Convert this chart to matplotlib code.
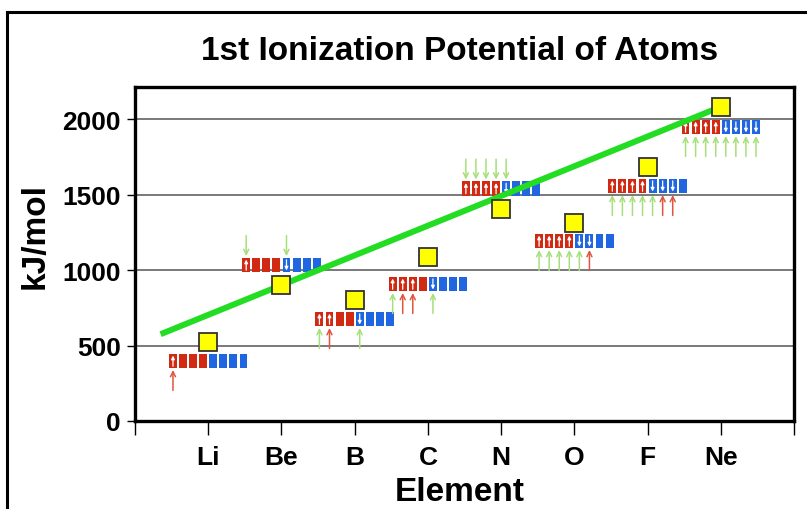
import numpy as np
import matplotlib
matplotlib.use('Agg')
import matplotlib.pyplot as plt
from matplotlib.patches import Rectangle

# ionization energies, kJ/mol
elements = ['Li', 'Be', 'B', 'C', 'N', 'O', 'F', 'Ne']
ionization = [520, 899, 801, 1086, 1402, 1314, 1681, 2081]

# level of each orbital-box strip (kJ/mol)
box_level = [397, 1033, 675, 907, 1540, 1192, 1556, 1947]
# filled spin-up (red) and spin-down (blue) boxes
n_up = [1, 1, 2, 3, 4, 4, 4, 4]
n_down = [0, 1, 1, 1, 1, 2, 3, 4]

# small arrows outside the strips (box index)
green_above = {'Be': [0, 4], 'N': [0, 1, 2, 3, 4]}
green_below = {'B': [0, 4], 'C': [0, 4], 'O': [0, 1, 2, 3, 4],
               'F': [0, 1, 2, 3, 4], 'Ne': [0, 1, 2, 3, 4, 5, 6, 7]}
red_below = {'Li': [0], 'B': [1], 'C': [1, 2], 'O': [5], 'F': [5, 6]}

# trend line
trend_x = [0.35, 8.0]
trend_y = [575, 2081]

RED = '#d22a12'
BLUE = '#1f66e0'
LGREEN = '#a6e07a'
LRED = '#e0553f'

plt.rcParams['font.family'] = ['Liberation Sans', 'DejaVu Sans']
plt.rcParams['font.weight'] = 'bold'

fig = plt.figure(figsize=(8.07, 5.10), dpi=100)
ax = fig.add_axes([135 / 807, 88 / 510, 659 / 807, 334 / 510])

xs = np.arange(1, len(elements) + 1)

pitch = 0.1375
box_w = 0.108
box_h = 95
arr_len = 135
arr_gap = 12


def small_arrow(x, y0, y1, color, lw=1.1, ms=9, style='->'):
    ax.annotate('', xy=(x, y1), xytext=(x, y0),
                arrowprops=dict(arrowstyle=style, color=color, lw=lw,
                                mutation_scale=ms, shrinkA=0, shrinkB=0),
                zorder=5)


for i, el in enumerate(elements):
    xc = xs[i]
    lev = box_level[i]
    centers = []
    for k in range(8):
        left = xc - 4 * pitch + k * pitch + (pitch - box_w) / 2
        cx = left + box_w / 2
        centers.append(cx)
        ax.add_patch(Rectangle((left, lev - box_h / 2), box_w, box_h,
                               facecolor=RED if k < 4 else BLUE,
                               edgecolor='none', zorder=3))
        if k < 4 and k < n_up[i]:
            small_arrow(cx, lev - 0.36 * box_h, lev + 0.38 * box_h, 'white',
                        lw=0.9, ms=5, style='-|>')
        if k >= 4 and k - 4 < n_down[i]:
            small_arrow(cx, lev + 0.36 * box_h, lev - 0.38 * box_h, 'white',
                        lw=0.9, ms=5, style='-|>')

    top = lev + box_h / 2
    bot = lev - box_h / 2
    for k in green_above.get(el, []):
        small_arrow(centers[k], top + arr_gap + arr_len, top + arr_gap, LGREEN)
    for k in green_below.get(el, []):
        small_arrow(centers[k], bot - arr_gap - arr_len, bot - arr_gap, LGREEN)
    for k in red_below.get(el, []):
        small_arrow(centers[k], bot - arr_gap - arr_len, bot - arr_gap, LRED)

ax.plot(trend_x, trend_y, color='#22dd22', lw=4.3, solid_capstyle='butt', zorder=6)
ax.plot(xs, ionization, linestyle='none', marker='s', markersize=13,
        markerfacecolor='#ffff00', markeredgecolor='#333333',
        markeredgewidth=1.3, zorder=7)

ax.set_xlim(0, 9)
ax.set_ylim(0, 2212)
ax.set_yticks([0, 500, 1000, 1500, 2000])
ax.set_xticks(np.arange(0, 10))
ax.set_xticklabels([''] + elements + [''])
ax.yaxis.grid(True, color='#555555', lw=1.1)
ax.set_axisbelow(True)

for s in ax.spines.values():
    s.set_linewidth(2.4)
ax.tick_params(axis='y', length=6, width=1, labelsize=19, pad=4)
ax.tick_params(axis='x', length=10, width=1, labelsize=19, pad=7)
for lbl in ax.get_xticklabels() + ax.get_yticklabels():
    lbl.set_fontweight('bold')

ax.set_ylabel('kJ/mol', fontsize=24, fontweight='bold')
ax.yaxis.set_label_coords(-0.128, 0.557)
ax.set_xlabel('Element', fontsize=24, fontweight='bold')
ax.xaxis.set_label_coords(0.493, -0.165)

fig.text(460 / 807, 1 - 51 / 510, '1st Ionization Potential of Atoms',
         fontsize=24, fontweight='bold', ha='center', va='center')

# outer frame
fig.patches.append(Rectangle((7 / 807, -0.1), 1.2, 1.1 - 13 / 510,
                             transform=fig.transFigure, fill=False,
                             edgecolor='black', lw=2.2))

fig.savefig('out.png', dpi=100)
